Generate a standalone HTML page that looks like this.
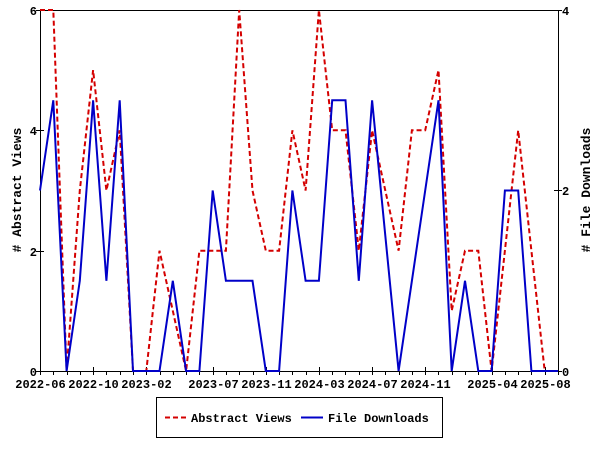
<!DOCTYPE html>
<html><head><meta charset="utf-8"><style>body{margin:0;background:#fff}svg{display:block}</style></head>
<body>
<svg width="600" height="450" xmlns="http://www.w3.org/2000/svg" font-family="Liberation Mono, DejaVu Sans Mono, monospace" font-size="12" font-weight="bold">
<rect width="600" height="450" fill="#fff"/>
<g id="minor" stroke="#000" stroke-width="1"></g>
<rect x="40.5" y="10.5" width="518" height="361" fill="none" stroke="#000"/>
<g stroke="#000">
<line x1="36" y1="371.5" x2="44" y2="371.5"/><line x1="36" y1="251.5" x2="44" y2="251.5"/><line x1="36" y1="130.5" x2="44" y2="130.5"/><line x1="36" y1="10.5" x2="44" y2="10.5"/>
<line x1="554" y1="371.5" x2="562" y2="371.5"/><line x1="554" y1="190.5" x2="562" y2="190.5"/><line x1="554" y1="10.5" x2="562" y2="10.5"/>
</g>
<g text-anchor="end">
<text x="37" y="376">0</text><text x="37" y="256">2</text><text x="37" y="135">4</text><text x="37" y="15">6</text>
</g>
<g text-anchor="start">
<text x="562" y="376">0</text><text x="562" y="195">2</text><text x="562" y="15">4</text>
</g>
<g text-anchor="middle" id="xl"></g>
<text transform="translate(21,190) rotate(-90)" text-anchor="middle" font-size="13">#  Abstract Views</text>
<text transform="translate(590,190) rotate(-90)" text-anchor="middle" font-size="13">#  File Downloads</text>
<polyline id="red" fill="none" stroke="#d40000" stroke-width="2" stroke-dasharray="5,3"/>
<polyline id="blue" fill="none" stroke="#0000c8" stroke-width="2"/>
<rect x="156.5" y="397.5" width="286" height="40" fill="#fff" stroke="#000"/>
<line x1="165" y1="417.5" x2="187" y2="417.5" stroke="#d40000" stroke-width="2" stroke-dasharray="5,3"/>
<text x="191" y="422">Abstract Views</text>
<line x1="301" y1="417.5" x2="323" y2="417.5" stroke="#0000c8" stroke-width="2"/>
<text x="328" y="422">File Downloads</text>
</svg>
<script>
var v=[6,6,0,3,5,3,4,0,0,2,1,0,2,2,2,6,3,2,2,4,3,6,4,4,2,4,3,2,4,4,5,1,2,2,0,2,4,2,0,0];
var d=[2,3,0,1,3,1,3,0,0,0,1,0,0,2,1,1,1,0,0,2,1,1,3,3,1,3,1.5,0,1,2,3,0,1,0,0,2,2,0,0,0];
var dx=518/39,p1=[],p2=[];
for(var i=0;i<40;i++){var x=40+dx*i;p1.push(x.toFixed(1)+","+(371-v[i]*60.17).toFixed(1));p2.push(x.toFixed(1)+","+(371-d[i]*90.25).toFixed(1));}
document.getElementById('red').setAttribute('points',p1.join(' '));
document.getElementById('blue').setAttribute('points',p2.join(' '));
var m=document.getElementById('minor'),s='';
var maj={0:'2022-06',4:'2022-10',8:'2023-02',13:'2023-07',17:'2023-11',21:'2024-03',25:'2024-07',29:'2024-11',34:'2025-04',38:'2025-08'};
var xl='';
for(var i=0;i<40;i++){var x=(Math.round(40+dx*i)+0.5);var M=maj[i]!==undefined;s+='<line x1="'+x+'" y1="'+(M?367:371)+'" x2="'+x+'" y2="375"/>';if(M)xl+='<text x="'+x+'" y="388">'+maj[i]+'</text>';}
m.innerHTML=s;document.getElementById('xl').innerHTML=xl;
</script>
</body></html>
